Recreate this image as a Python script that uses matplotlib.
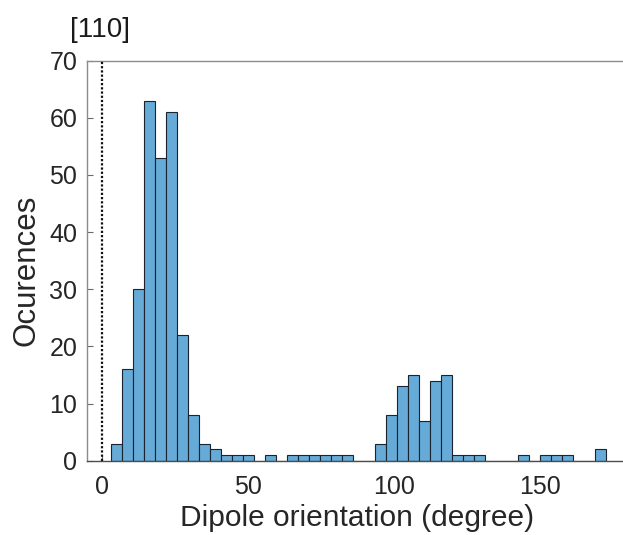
import numpy as np
import matplotlib
matplotlib.use("Agg")
import matplotlib.pyplot as plt

plt.rcParams['font.family'] = ['Liberation Sans', 'DejaVu Sans']

# ---- data ----
bin_start = 3.2
bin_width = 3.77
counts = [3, 16, 30, 63, 53, 61, 22, 8, 3, 2,
          1, 1, 1, 0, 1, 0, 1, 1, 1, 1,
          1, 1, 0, 0, 3, 8, 13, 15, 7, 14,
          15, 1, 1, 1, 0, 0, 0, 1, 0, 1,
          1, 1, 0, 0, 2]
xticks = [0, 50, 100, 150]
yticks = [0, 10, 20, 30, 40, 50, 60, 70]
title = "[110]"
xlabel = "Dipole orientation (degree)"
ylabel = "Ocurences"

edges = bin_start + bin_width * np.arange(len(counts) + 1)

W, H = 623, 535
fig = plt.figure(figsize=(W / 100, H / 100), dpi=100)
ax_l, ax_r, ax_t, ax_b = 87.1, 627.3, 60.7, 460.7
ax = fig.add_axes([ax_l / W, 1 - ax_b / H, (ax_r - ax_l) / W, (ax_b - ax_t) / H])

ax.bar(edges[:-1], counts, width=np.diff(edges), align='edge',
       color='#66aad7', edgecolor='#1a2430', linewidth=0.8, zorder=2)
ax.axvline(0, color='#111111', linestyle=(0, (1, 0.9)), linewidth=1.6, zorder=3)

ax.set_xlim(-5, 180)
ax.set_ylim(0, 70)
ax.set_xticks(xticks)
ax.set_yticks(yticks)

for s in ['left', 'top']:
    ax.spines[s].set_color('#8c8c8c')
    ax.spines[s].set_linewidth(1.0)
ax.spines['bottom'].set_color('#4d4d4d')
ax.spines['bottom'].set_linewidth(1.0)
ax.spines['right'].set_visible(False)

ax.tick_params(axis='both', direction='in', length=4.5, width=0.8,
               colors='#6a6a6a', labelsize=18, labelcolor='#262626')
ax.tick_params(axis='x', pad=10)
ax.tick_params(axis='y', pad=7)

ax.set_xlabel(xlabel, fontsize=21.5, color='#262626')
ax.set_ylabel(ylabel, fontsize=22.5, color='#262626')
ax.xaxis.set_label_coords(0.5, -0.107)
ax.yaxis.set_label_coords((41.5 - ax_l) / (ax_r - ax_l), (ax_b - 270) / (ax_b - ax_t))

fig.text(70 / W, 1 - 37 / H, title, fontsize=20, color='#1a1a1a',
         ha='left', va='baseline')

fig.savefig("out.png", dpi=100)
